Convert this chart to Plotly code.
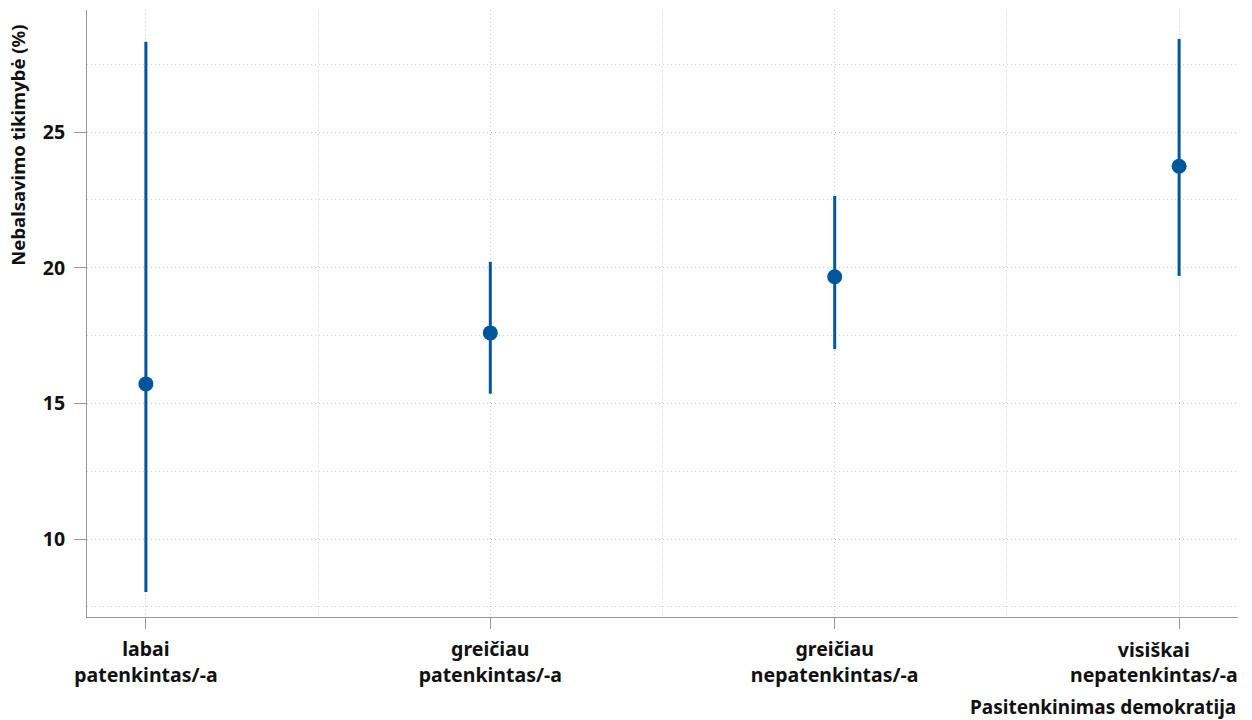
import plotly.graph_objects as go

categories = ["labai<br>patenkintas/-a", "greičiau<br>patenkintas/-a",
              "greičiau<br>nepatenkintas/-a", "visiškai<br>nepatenkintas/-a"]
positions = [1, 2, 3, 4]
estimate = [15.72, 17.6, 19.67, 23.74]
ci_low = [8.05, 15.36, 17.0, 19.7]
ci_high = [28.33, 20.22, 22.65, 28.43]
y_ticks = [10, 15, 20, 25]

err_plus = [h - e for h, e in zip(ci_high, estimate)]
err_minus = [e - l for e, l in zip(estimate, ci_low)]

color = "#00569b"
font_family = "Noto Sans, Open Sans, sans-serif"
txt = "#111111"
fs = 19.5

fig = go.Figure()
fig.add_trace(go.Scatter(
    x=positions, y=estimate, mode="markers",
    marker=dict(size=15, color=color),
    error_y=dict(type="data", symmetric=False, array=err_plus, arrayminus=err_minus,
                 color=color, thickness=3, width=0),
    showlegend=False,
))

grid = dict(showgrid=True, gridcolor="#c8c8c8", griddash="1px,3px", gridwidth=1)
mgrid = dict(showgrid=True, gridcolor="#d0d0d0", griddash="1px,3px", ticks="")

# last category label is drawn as an annotation so it can sit flush with the right edge
tick_text = categories[:-1] + [""]

fig.update_layout(
    width=1252, height=720,
    margin=dict(l=87, r=14, t=10, b=103, autoexpand=False),
    plot_bgcolor="white", paper_bgcolor="white",
    font=dict(family=font_family, size=fs, color=txt, weight="bold"),
    xaxis=dict(
        range=[0.829, 4.171], tickmode="array", tickvals=positions, ticktext=tick_text,
        showline=True, linecolor="#999999", linewidth=1,
        ticks="outside", ticklen=11, tickcolor="#999999",
        zeroline=False, automargin=False, ticklabelstandoff=4,
        tickfont=dict(size=fs),
        minor=dict(tickmode="array", tickvals=[1.5, 2.5, 3.5], **mgrid),
        **grid,
    ),
    yaxis=dict(
        range=[7.13, 29.5], tickmode="array", tickvals=y_ticks,
        showline=True, linecolor="#999999", linewidth=1,
        ticks="outside", ticklen=12, tickcolor="#999999",
        zeroline=False, automargin=False, ticklabelstandoff=5,
        tickfont=dict(size=fs),
        minor=dict(tickmode="array", tickvals=[7.5, 12.5, 17.5, 22.5, 27.5], **mgrid),
        **grid,
    ),
    annotations=[
        dict(text="Nebalsavimo tikimybė (%)", xref="paper", yref="paper",
             x=-0.0600, y=0.778, xanchor="center", yanchor="middle",
             textangle=-90, showarrow=False,
             font=dict(family=font_family, size=18.5, color=txt, weight="bold")),
        dict(text="Pasitenkinimas demokratija", xref="paper", yref="paper",
             x=1.0, y=-0.148, xanchor="right", yanchor="middle", showarrow=False,
             font=dict(family=font_family, size=19, color=txt, weight="bold")),
        dict(text=categories[-1], xref="paper", yref="paper",
             x=1.0017, y=-0.0741, xanchor="right", yanchor="middle", align="center",
             showarrow=False,
             font=dict(family=font_family, size=fs, color=txt, weight="bold")),
    ],
)

fig.write_html("out.html", config={"displayModeBar": False},
               post_script="document.body.style.margin='0';document.body.style.overflow='hidden';")
